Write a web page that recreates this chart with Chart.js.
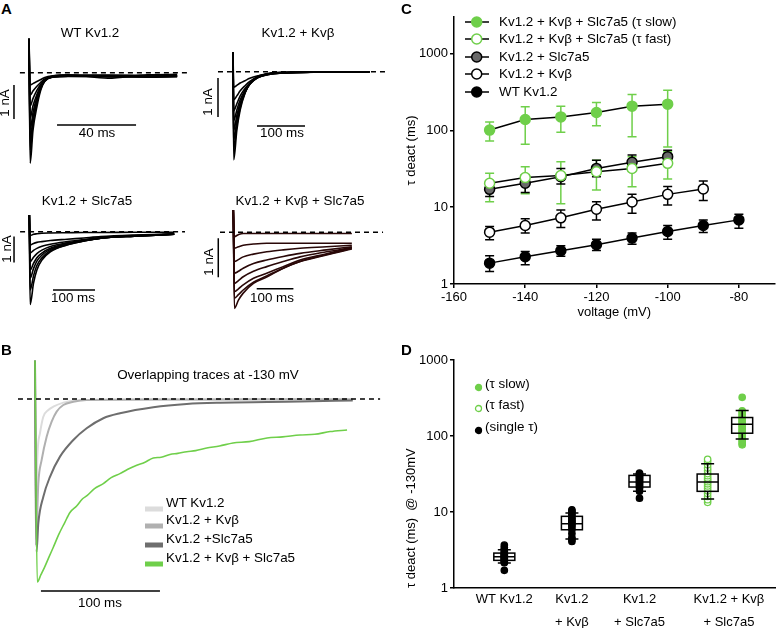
<!DOCTYPE html>
<html>
<head>
<meta charset="utf-8">
<script src="https://cdn.jsdelivr.net/npm/chart.js@4.4.1/dist/chart.umd.min.js"></script>
<style>
body { margin:0; background:#fff; }
#fig { position:relative; width:781px; height:628px; overflow:hidden; font-family:'Liberation Sans', Arial, sans-serif; font-size:13.4px; color:#000; }
#fig canvas { position:absolute; }
.lbl { position:absolute; white-space:nowrap; transform:translate(-50%,-50%); line-height:1; z-index:2; }
.lft { transform:translate(0,-50%); }
.rot { transform:translate(-50%,-50%) rotate(-90deg); }
.panel { font-weight:bold; font-size:15px; }
.sw { position:absolute; z-index:2; }
</style>
</head>
<body>
<div id="fig">
  <canvas id="a1" width="200" height="150" style="left:0;top:20px"></canvas>
  <canvas id="a2" width="200" height="150" style="left:200px;top:20px"></canvas>
  <canvas id="a3" width="200" height="130" style="left:0;top:190px"></canvas>
  <canvas id="a4" width="200" height="130" style="left:200px;top:190px"></canvas>
  <canvas id="b" width="400" height="308" style="left:0;top:320px"></canvas>
  <canvas id="c" width="381" height="320" style="left:400px;top:0"></canvas>
  <canvas id="d" width="381" height="308" style="left:400px;top:320px"></canvas>
</div>
<script>
// ---- panel A : current traces (ms, nA) ----
const wtTimes = [0, 0.6, 2, 4, 6, 8, 12, 20, 40, 60, 75];
const wtTraces = [
  [1.0, -2.66, -1.70, -1.00, -0.50, -0.25, -0.13, -0.11, -0.12, -0.13, -0.12],
  [1.0, -2.27, -1.50, -0.88, -0.46, -0.24, -0.13, -0.10, -0.11, -0.12, -0.11],
  [1.0, -1.97, -1.35, -0.80, -0.44, -0.24, -0.12, -0.10, -0.10, -0.11, -0.10],
  [1.0, -1.68, -1.18, -0.72, -0.42, -0.23, -0.12, -0.09, -0.10, -0.10, -0.10],
  [1.0, -1.33, -0.98, -0.64, -0.38, -0.22, -0.12, -0.09, -0.09, -0.10, -0.09],
  [1.0, -0.98, -0.76, -0.52, -0.33, -0.20, -0.11, -0.08, -0.08, -0.09, -0.08],
  [1.0, -0.66, -0.54, -0.40, -0.28, -0.18, -0.10, -0.07, -0.07, -0.08, -0.07],
  [1.0, -0.36, -0.32, -0.26, -0.20, -0.14, -0.09, -0.06, -0.16, -0.06, -0.05]
];
const kvbTimes = [0, 1.5, 8, 15, 25, 35, 50, 75, 110, 180, 285];
const kvbTraces = [
  [0.5, -2.26, -1.50, -0.98, -0.55, -0.30, -0.13, -0.04, -0.015, 0, 0],
  [0.5, -2.00, -1.38, -0.92, -0.54, -0.31, -0.14, -0.05, -0.02, 0, 0],
  [0.5, -1.75, -1.25, -0.86, -0.53, -0.32, -0.15, -0.05, -0.02, -0.01, 0],
  [0.5, -1.50, -1.12, -0.80, -0.51, -0.32, -0.16, -0.06, -0.02, -0.01, 0],
  [0.5, -1.25, -0.98, -0.72, -0.48, -0.31, -0.16, -0.06, -0.02, -0.01, 0],
  [0.5, -1.00, -0.82, -0.62, -0.43, -0.29, -0.16, -0.07, -0.03, -0.01, 0],
  [0.5, -0.72, -0.62, -0.49, -0.36, -0.25, -0.15, -0.07, -0.03, -0.01, 0],
  [0.5, -0.40, -0.35, -0.29, -0.23, -0.17, -0.11, -0.06, -0.03, -0.01, 0]
];
const slcTimes = [0, 2, 10, 18, 30, 50, 90, 130, 170, 250, 345];
const slcTraces = [
  [0.64, -2.80, -1.98, -1.47, -1.09, -0.77, -0.51, -0.36, -0.25, -0.17, -0.10],
  [0.64, -2.24, -1.70, -1.30, -1.00, -0.73, -0.50, -0.36, -0.25, -0.17, -0.10],
  [0.64, -1.78, -1.42, -1.13, -0.90, -0.68, -0.48, -0.35, -0.25, -0.17, -0.10],
  [0.64, -1.47, -1.22, -1.00, -0.82, -0.64, -0.46, -0.34, -0.25, -0.17, -0.10],
  [0.64, -1.15, -0.98, -0.84, -0.71, -0.57, -0.43, -0.33, -0.24, -0.16, -0.10],
  [0.64, -0.82, -0.72, -0.64, -0.56, -0.48, -0.38, -0.30, -0.22, -0.15, -0.09],
  [0.64, -0.51, -0.45, -0.41, -0.38, -0.34, -0.29, -0.24, -0.19, -0.13, -0.08],
  [0.64, -0.15, -0.10, -0.08, -0.06, -0.05, -0.04, -0.03, -0.03, -0.02, -0.02]
];
const triTimes = [0, 3, 14, 27, 55, 91, 136, 182, 254, 323];
const triTraces = [
  [0.57, -1.95, -1.74, -1.56, -1.31, -1.15, -0.92, -0.75, -0.58, -0.43],
  [0.57, -1.69, -1.60, -1.48, -1.28, -1.12, -0.92, -0.75, -0.57, -0.41],
  [0.57, -1.52, -1.45, -1.35, -1.18, -1.05, -0.88, -0.71, -0.55, -0.39],
  [0.57, -1.31, -1.24, -1.14, -1.00, -0.88, -0.75, -0.63, -0.50, -0.39],
  [0.57, -1.05, -1.00, -0.92, -0.80, -0.71, -0.62, -0.54, -0.45, -0.37],
  [0.57, -0.75, -0.70, -0.63, -0.56, -0.50, -0.45, -0.41, -0.37, -0.33],
  [0.57, -0.41, -0.37, -0.33, -0.30, -0.28, -0.28, -0.28, -0.28, -0.28],
  [0.57, -0.11, -0.06, -0.03, -0.03, -0.03, -0.03, -0.03, -0.03, -0.03]
];

// ---- panel B : overlapping traces at -130 mV (ms, normalised current) ----
const bWtT = [0, 0.7, 1.9, 4.2, 7, 11.2, 15.4, 23.8, 32.2, 60, 120, 220];
const bWtI = [0.21, -0.77, -0.333, -0.187, -0.097, -0.06, -0.042, -0.02, -0.009, -0.004, -0.003, -0.003];
const bKvbT = [0, 0.8, 2.8, 5.6, 9.8, 14, 18.2, 23.8, 32.2, 43.4, 100, 200, 267];
const bKvbI = [0.21, -0.80, -0.461, -0.333, -0.206, -0.124, -0.069, -0.033, -0.015, -0.005, -0.003, -0.002, -0.002];
const bSlcT = [0, 1.3, 2.8, 7, 12.6, 21, 32.2, 43.4, 57.4, 71.4, 99.4, 127.5, 155.5, 222.7, 267];
const bSlcI = [0.21, -0.836, -0.679, -0.534, -0.425, -0.315, -0.224, -0.160, -0.105, -0.078, -0.045, -0.027, -0.02, -0.014, -0.008];
const bTriT = [0, 1.9, 5, 8, 12, 15.4, 20, 25, 29.4, 35, 40, 43.4, 50, 57.4, 64, 71.4, 78, 85.5, 92, 99.4, 106, 113.4, 120, 127.5, 135, 144.3, 155, 166.4, 180, 195, 208, 222.7, 235, 248, 262.2];
const bTriI = [0.21, -1.0, -0.96, -0.92, -0.86, -0.81, -0.74, -0.675, -0.62, -0.585, -0.545, -0.53, -0.49, -0.462, -0.43, -0.408, -0.384, -0.362, -0.347, -0.322, -0.318, -0.303, -0.297, -0.288, -0.282, -0.268, -0.257, -0.24, -0.233, -0.213, -0.207, -0.197, -0.193, -0.178, -0.169];
const bNames = ['WT Kv1.2', 'Kv1.2 + Kvβ', 'Kv1.2 +Slc7a5', 'Kv1.2 + Kvβ + Slc7a5'];

// ---- panel C : tau deact vs voltage ----
const voltages = [-150, -140, -130, -120, -110, -100, -90, -80];
const slowTau = [101, 139, 150, 171, 207, 220];
const slowLo = [73, 66, 95, 115, 83, 61];
const slowHi = [129, 203, 207, 231, 294, 334];
const fastTau = [20.5, 24.3, 25.8, 29, 32, 37.3];
const fastLo = [11.8, 15, 11.1, 16.8, 18.5, 23.3];
const fastHi = [27.7, 33.7, 39.2, 41, 45.5, 52.8];
const slcTau = [17.1, 20.5, 25, 32, 38.4, 45.5];
const slcLo = [13.8, 15.5, 20, 25, 30, 37];
const slcHi = [20.9, 26.3, 32, 41, 47.8, 55.3];
const kvbTau = [4.73, 5.78, 7.27, 9.4, 11.7, 14.7, 17.3];
const kvbLo = [3.76, 4.6, 5.45, 6.8, 8.35, 10.7, 12.2];
const kvbHi = [5.6, 7.06, 9.2, 11.8, 14.7, 18.6, 22];
const wtTau = [1.87, 2.26, 2.71, 3.24, 3.96, 4.83, 5.78, 6.84];
const wtLo = [1.46, 1.78, 2.29, 2.74, 3.3, 3.84, 4.7, 5.33];
const wtHi = [2.33, 2.65, 3.15, 3.84, 4.6, 5.78, 6.84, 8.1];
const cNames = ['Kv1.2 + Kvβ + Slc7a5 (τ slow)', 'Kv1.2 + Kvβ + Slc7a5 (τ fast)', 'Kv1.2 + Slc7a5', 'Kv1.2 + Kvβ', 'WT Kv1.2'];
const logTicks = [1, 10, 100, 1000];
const voltTicks = [-160, -140, -120, -100, -80];

// ---- panel D : tau deact at -130 mV ----
const groupNames = [['WT Kv1.2'], ['Kv1.2', '+ Kvβ'], ['Kv1.2', '+ Slc7a5'], ['Kv1.2 + Kvβ', '+ Slc7a5']];
const dWt = [1.71, 2.15, 2.22, 2.3, 2.38, 2.45, 2.52, 2.6, 2.66, 2.74, 2.82, 2.92, 3.05, 3.2, 3.4, 3.67];
const dKvb = [4.1, 4.35, 4.6, 5.2, 5.9, 6.4, 6.8, 7.1, 7.4, 7.8, 8.2, 8.7, 9.2, 9.8, 10.3, 10.7];
const dSlc = [15.2, 18.8, 20.5, 21.5, 22.5, 23.5, 24.5, 25.5, 26.5, 27.5, 28.5, 29.5, 30.5, 31.5, 32.5];
const dFast = [13.4, 14.5, 16, 17.5, 19, 20.5, 22, 23.5, 25, 26.5, 28, 30, 32, 35, 38, 42, 46, 49.4];
const dSlow = [76.6, 80, 85, 90, 96, 102, 108, 114, 120, 127, 134, 141, 148, 156, 164, 173, 182, 192, 203, 215, 323];
const boxLow = [2.13, 4.41, 18.7, 14.8, 91];
const boxQ1 = [2.31, 5.84, 21.3, 18.7, 108.8];
const boxMed = [2.58, 7.03, 24.8, 24.8, 143];
const boxQ3 = [2.88, 8.77, 30.3, 31.6, 175];
const boxHigh = [3.19, 9.7, 31.7, 43, 217];
const dLegend = ['(τ slow)', '(τ fast)', '(single τ)'];

// layout (x positions on panel D's axis)
const boxX = [0.743, 1.741, 2.739, 3.745, 4.255];
const groupX = [0.743, 1.741, 2.739, 4.06];

const GREEN = '#6fcf4a';
Chart.defaults.font.family = "'Liberation Sans', Arial, sans-serif";
Chart.defaults.font.size = 13;
Chart.defaults.color = '#000';
Chart.defaults.animation = false;
Chart.defaults.plugins.legend.display = false;
Chart.defaults.plugins.tooltip.enabled = false;

const pts = (xs, ys) => xs.map((x, i) => ({x: x, y: ys[i]}));
const seg = (x0, y0, x1, y1, dash) => ({
  data: [{x: x0, y: y0}, {x: x1, y: y1}], borderColor: '#000', borderWidth: 1.5,
  borderDash: dash || [], pointRadius: 0, order: 0
});

function traceChart(id, times, traces, color, view, bars) {
  const datasets = traces.map(tr => ({
    data: pts(times, tr), borderColor: color, borderWidth: 1.6, pointRadius: 0,
    cubicInterpolationMode: 'monotone', order: 1
  }));
  datasets.push(seg(bars.dash[0], 0, bars.dash[1], 0, [5, 4]));
  datasets.push(seg(bars.v[0], bars.v[1], bars.v[0], bars.v[1] - 1));
  datasets.push(seg(bars.h[0], bars.h[2], bars.h[1], bars.h[2]));
  new Chart(document.getElementById(id), {
    type: 'line',
    data: {datasets},
    options: {
      responsive: false, layout: {padding: 0},
      scales: {
        x: {type: 'linear', display: false, min: view[0], max: view[1]},
        y: {type: 'linear', display: false, min: view[2], max: view[3]}
      }
    }
  });
}

traceChart('a1', wtTimes, wtTraces, '#000', [-14.68, 86.58, -2.86, 1.55],
  {dash: [-4.6, 80], v: [-7.6, -0.36], h: [14.2, 54.2, -1.54]});
traceChart('a2', kvbTimes, kvbTraces, '#000', [-68.75, 347.9, -2.52, 1.326],
  {dash: [-31.3, 320.8], v: [-31.25, -0.16], h: [50, 150, -1.39]});
traceChart('a3', slcTimes, slcTraces, '#000', [-69.8, 406.4, -3.396, 1.604],
  {dash: [-22, 370.7], v: [-36.4, -0.18], h: [56.4, 156.4, -2.24]});
traceChart('a4', triTimes, triTraces, '#2a0808', [-90.7, 454.2, -2.249, 1.085],
  {dash: [-36.2, 408], v: [-40.9, -0.154], h: [63.8, 163.8, -1.45]});

// panel B
const bColors = ['#dcdcdc', '#b0b0b0', '#6e6e6e', GREEN];
const bSets = [[bWtT, bWtI], [bKvbT, bKvbI], [bSlcT, bSlcI], [bTriT, bTriI]];
new Chart(document.getElementById('b'), {
  type: 'line',
  data: {
    datasets: bSets.map((s, i) => ({
      data: pts(s[0], s[1]), borderColor: bColors[i], borderWidth: i === 3 ? 1.6 : 2,
      pointRadius: 0, cubicInterpolationMode: 'monotone', order: 4 - i
    })).concat([seg(-14.3, 0, 290, 0, [5, 4]), seg(5, -1.049, 105, -1.049)])
  },
  options: {
    responsive: false, layout: {padding: 0},
    scales: {
      x: {type: 'linear', display: false, min: -29.4, max: 306.7},
      y: {type: 'linear', display: false, min: -1.2514, max: 0.4317}
    }
  }
});

// panel C
const errorBars = {
  id: 'errorBars',
  beforeDatasetsDraw(chart) {
    const {ctx, scales: {x, y}} = chart;
    chart.data.datasets.forEach(ds => {
      if (!ds.errLo) return;
      ctx.save();
      ctx.strokeStyle = ds.errColor;
      ctx.lineWidth = 1.5;
      ds.data.forEach((p, i) => {
        const px = x.getPixelForValue(p.x);
        const yl = y.getPixelForValue(ds.errLo[i]);
        const yh = y.getPixelForValue(ds.errHi[i]);
        ctx.beginPath();
        ctx.moveTo(px, yl); ctx.lineTo(px, yh);
        ctx.moveTo(px - 4.5, yl); ctx.lineTo(px + 4.5, yl);
        ctx.moveTo(px - 4.5, yh); ctx.lineTo(px + 4.5, yh);
        ctx.stroke();
      });
      ctx.restore();
    });
  }
};
const cSeries = [
  [slowTau, slowLo, slowHi, GREEN, GREEN, GREEN],
  [fastTau, fastLo, fastHi, '#fff', GREEN, GREEN],
  [slcTau, slcLo, slcHi, '#6a6a6a', '#000', '#000'],
  [kvbTau, kvbLo, kvbHi, '#fff', '#000', '#000'],
  [wtTau, wtLo, wtHi, '#000', '#000', '#000']
];
new Chart(document.getElementById('c'), {
  type: 'line',
  data: {
    datasets: cSeries.map(s => ({
      label: '', data: pts(voltages.slice(0, s[0].length), s[0]),
      errLo: s[1], errHi: s[2], errColor: s[5],
      borderColor: '#000', borderWidth: 1.5, tension: 0,
      pointRadius: 5, pointBorderWidth: 1.5,
      pointBackgroundColor: s[3], pointBorderColor: s[4]
    }))
  },
  options: {
    responsive: false,
    layout: {padding: {top: 17, right: 1, left: 0, bottom: 0}},
    scales: {
      x: {
        type: 'linear', min: -160, max: -70,
        afterBuildTicks: sc => { sc.ticks = voltTicks.map(v => ({value: v})); },
        afterFit: sc => { sc.height = 36; },
        grid: {drawOnChartArea: false, tickLength: 4, color: '#000', lineWidth: 1.5},
        border: {color: '#000', width: 1.5},
        ticks: {padding: 2, maxRotation: 0},
        title: {display: true, text: 'voltage (mV)', padding: {top: 0, bottom: 0}}
      },
      y: {
        type: 'logarithmic', min: 1, max: 3000,
        afterBuildTicks: sc => { sc.ticks = logTicks.map(v => ({value: v})); },
        afterFit: sc => { sc.width = 54; },
        grid: {drawOnChartArea: false, tickLength: 4, color: '#000', lineWidth: 1.5},
        border: {color: '#000', width: 1.5},
        ticks: {padding: 2, callback: v => String(v)},
        title: {display: true, text: 'τ deact (ms)', padding: {top: 4, bottom: 0}}
      }
    }
  },
  plugins: [errorBars]
});

// panel D
function drawBoxes(chart, fillOnly) {
  const {ctx, scales: {x, y}} = chart;
  ctx.save();
  ctx.lineWidth = 1.5;
  ctx.strokeStyle = '#000';
  ctx.fillStyle = '#fff';
  boxMed.forEach((m, i) => {
    const cx = x.getPixelForValue(boxX[i]);
    const top = y.getPixelForValue(boxQ3[i]);
    const bot = y.getPixelForValue(boxQ1[i]);
    if (fillOnly) { ctx.fillRect(cx - 10.5, top, 21, bot - top); return; }
    const med = y.getPixelForValue(m);
    const wh = y.getPixelForValue(boxHigh[i]);
    const wl = y.getPixelForValue(boxLow[i]);
    ctx.strokeRect(cx - 10.5, top, 21, bot - top);
    ctx.beginPath();
    ctx.moveTo(cx - 10.5, med); ctx.lineTo(cx + 10.5, med);
    ctx.moveTo(cx, top); ctx.lineTo(cx, wh);
    ctx.moveTo(cx - 6.5, wh); ctx.lineTo(cx + 6.5, wh);
    ctx.moveTo(cx, bot); ctx.lineTo(cx, wl);
    ctx.moveTo(cx - 6.5, wl); ctx.lineTo(cx + 6.5, wl);
    ctx.stroke();
  });
  ctx.restore();
}
const boxPlot = {
  id: 'boxPlot',
  beforeDatasetsDraw(chart) { drawBoxes(chart, true); },
  afterDatasetsDraw(chart) { drawBoxes(chart, false); }
};
const dGroups = [
  [dWt, '#000', '#000'], [dKvb, '#000', '#000'], [dSlc, '#000', '#000'],
  [dFast, '#fff', GREEN], [dSlow, GREEN, GREEN]
];
new Chart(document.getElementById('d'), {
  type: 'scatter',
  data: {
    datasets: dGroups.map((g, i) => ({
      data: g[0].map(v => ({x: boxX[i], y: v})),
      pointRadius: 3.2, pointBorderWidth: 1.3,
      pointBackgroundColor: g[1], pointBorderColor: g[2]
    }))
  },
  options: {
    responsive: false,
    layout: {padding: {top: 40, right: 1, left: 0, bottom: 0}},
    scales: {
      x: {
        type: 'linear', min: 0, max: 4.75,
        afterBuildTicks: sc => { sc.ticks = groupX.map(v => ({value: v})); },
        afterFit: sc => { sc.height = 40; },
        grid: {display: false, drawTicks: false},
        border: {color: '#000', width: 1.5},
        ticks: {padding: 0, maxRotation: 0, autoSkip: false,
          font: {lineHeight: 1.75}, callback: (v, i) => groupNames[i]}
      },
      y: {
        type: 'logarithmic', min: 1, max: 1000,
        afterBuildTicks: sc => { sc.ticks = logTicks.map(v => ({value: v})); },
        afterFit: sc => { sc.width = 54; },
        grid: {drawOnChartArea: false, tickLength: 4, color: '#000', lineWidth: 1.5},
        border: {color: '#000', width: 1.5},
        ticks: {padding: 2, callback: v => String(v)},
        title: {display: true, text: 'τ deact (ms)  @ -130mV', align: 'start', padding: {top: 4, bottom: 0}}
      }
    }
  },
  plugins: [boxPlot]
});

// ---- text labels and legends ----
const fig = document.getElementById('fig');
function label(text, x, y, cls) {
  const d = document.createElement('div');
  d.className = 'lbl ' + (cls || '');
  d.textContent = text;
  d.style.left = x + 'px';
  d.style.top = y + 'px';
  fig.appendChild(d);
}
function svgMark(x, y, w, h, inner) {
  const d = document.createElement('div');
  d.className = 'sw';
  d.style.left = x + 'px';
  d.style.top = y + 'px';
  d.innerHTML = '<svg width="' + w + '" height="' + h + '">' + inner + '</svg>';
  fig.appendChild(d);
}
label('A', 1, 8, 'lft panel');
label('B', 1, 349, 'lft panel');
label('C', 401, 8, 'lft panel');
label('D', 401, 349, 'lft panel');

label('WT Kv1.2', 90, 33);
label('Kv1.2 + Kvβ', 298, 33);
label('Kv1.2 + Slc7a5', 87, 201);
label('Kv1.2 + Kvβ + Slc7a5', 300, 201);
[[5, 103], [208, 102], [7, 249], [209, 262]].forEach(p => label('1 nA', p[0], p[1], 'rot'));
label('40 ms', 97, 133);
label('100 ms', 282, 133);
label('100 ms', 73, 298);
label('100 ms', 272, 298);

label('Overlapping traces at -130 mV', 208, 375);
label('100 ms', 100, 603);
[503, 520, 539, 558].forEach((y, i) => {
  svgMark(145, y - 3, 18, 6, '<rect x="0" y="0.5" width="18" height="5" fill="' + bColors[i] + '"/>');
  label(bNames[i], 166, y, 'lft');
});

[21.7, 39, 56.7, 74, 91.7].forEach((y, i) => {
  const s = cSeries[i];
  svgMark(464, y - 7, 26, 14,
    '<line x1="1" y1="7" x2="25" y2="7" stroke="#000" stroke-width="1.5"/>' +
    '<circle cx="12.7" cy="7" r="5" fill="' + s[3] + '" stroke="' + s[4] + '" stroke-width="1.5"/>');
  label(cNames[i], 499, y, 'lft');
});

const dMarks = [[GREEN, GREEN], ['#fff', GREEN], ['#000', '#000']];
[384, 405, 427].forEach((y, i) => {
  svgMark(474, y - 4, 9, 9,
    '<circle cx="4.5" cy="4.5" r="3" fill="' + dMarks[i][0] + '" stroke="' + dMarks[i][1] + '" stroke-width="1.3"/>');
  label(dLegend[i], 485, y, 'lft');
});
</script>
</body>
</html>
